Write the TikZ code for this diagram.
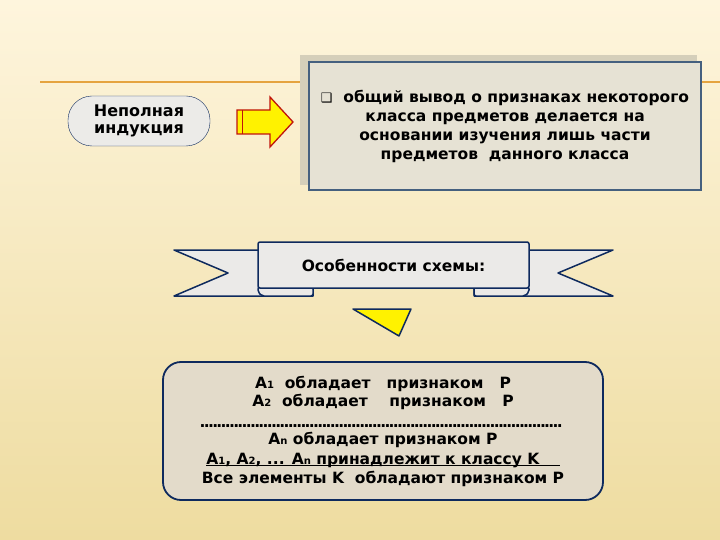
\documentclass[tikz,border=0pt]{standalone}
\usepackage{fontspec}
\setmainfont{DejaVu Sans}
\usetikzlibrary{positioning,calc}
\definecolor{navy}{HTML}{0E2A5E}
\definecolor{steel}{HTML}{45607F}
\definecolor{boxfill}{HTML}{E6E2D4}
\definecolor{shadowgray}{HTML}{D5CFBA}
\definecolor{pillfill}{HTML}{ECEBE8}
\definecolor{sandfill}{HTML}{E3DBCA}
\definecolor{ribbonfill}{HTML}{EBEAE8}
\definecolor{orangeline}{HTML}{E5A440}
\definecolor{bgtop}{HTML}{FEF5DD}
\definecolor{bgbottom}{HTML}{EEDCA0}
\definecolor{arrowred}{HTML}{C0140C}
\newcommand\ix[1]{{\fontsize{10}{10}\selectfont#1}}
\tikzset{txt/.style={font=\bfseries\fontsize{15.5}{19}\selectfont,align=center,text=black},
  pill/.style={txt,draw=navy,fill=pillfill,rounded corners=24pt,
    minimum width=142pt,minimum height=50pt},
  infobox/.style={txt,draw=steel,line width=1.6pt,fill=boxfill,
    minimum width=392pt,minimum height=128pt},
  schemebox/.style={txt,draw=navy,line width=1.8pt,fill=sandfill,rounded corners=18pt,
    minimum width=440pt,minimum height=138pt},
  ribbon/.style={draw=navy,line width=1.5pt,fill=ribbonfill,line join=round}}

\begin{document}
\begin{tikzpicture}[x=1pt,y=-1pt]
\useasboundingbox (0,0) rectangle (720,540);
% background
\shade[top color=bgtop,bottom color=bgbottom] (0,0) rectangle (720,540);
\draw[orangeline,line width=1.8pt] (40,82) -- (720,82);

% definition
\fill[shadowgray] (300,55) rectangle (697,185);
\node[infobox] (def) at (505,126) {{\fontsize{13}{13}\selectfont❑}\ \ общий вывод о признаках некоторого\\
  класса предметов делается на\\ основании изучения лишь части\\ предметов\ \ данного класса};
\node[pill,font=\bfseries\fontsize{16}{19}\selectfont] (ind) at (139,121) {Неполная\\[-2pt]индукция};

% arrow
\draw[arrowred,line width=1.3pt,fill=yellow,line join=miter]
  (237,110) -- (270,110) -- (270,97) -- (293,122) -- (270,147) -- (270,134) -- (237,134) -- cycle;
\draw[arrowred,line width=1pt] (242,110) -- (242,134);

% ribbon
\draw[ribbon] (258,250) -- (174,250) -- (228,273) -- (174,296) -- (313,296) -- (313,288);
\draw[ribbon] (529,250) -- (613,250) -- (558,273) -- (613,296) -- (474,296) -- (474,288);
\draw[ribbon,rounded corners=2pt] (258,292) -- (258,287) -- (313,287) -- (313,296) -- (262,296) -- cycle;
\draw[ribbon,rounded corners=2pt] (529,292) -- (529,287) -- (474,287) -- (474,296) -- (525,296) -- cycle;
\node[txt,draw=navy,line width=1.5pt,fill=ribbonfill,rounded corners=2pt,
  minimum width=271pt,minimum height=46pt] (feat) at (393.5,265) {Особенности схемы:};

% pointer
\draw[navy,line width=1.5pt,fill=yellow,line join=round] (353,309) -- (411,309) -- (399,336) -- cycle;

% scheme
\node[schemebox] (scheme) at (383,431) {A\ix1\ \ обладает\ \ \ признаком\ \ \ P\\[-1pt]
  A\ix2\ \ обладает\ \ \ \ признаком\ \ \ P\\[2pt]
  \hbox to 365pt{\leaders\hbox to 4.2pt{\hss.\hss}\hfill}\\[-2pt]
  A\ix{n} обладает признаком P\\[1pt]
  \underline{\smash{A\ix1, A\ix2, ... A\ix{n} принадлежит к классу K\hspace{1.3em}}}\\[0pt]
  Все элементы K\ \ обладают признаком P};
\end{tikzpicture}
\end{document}
